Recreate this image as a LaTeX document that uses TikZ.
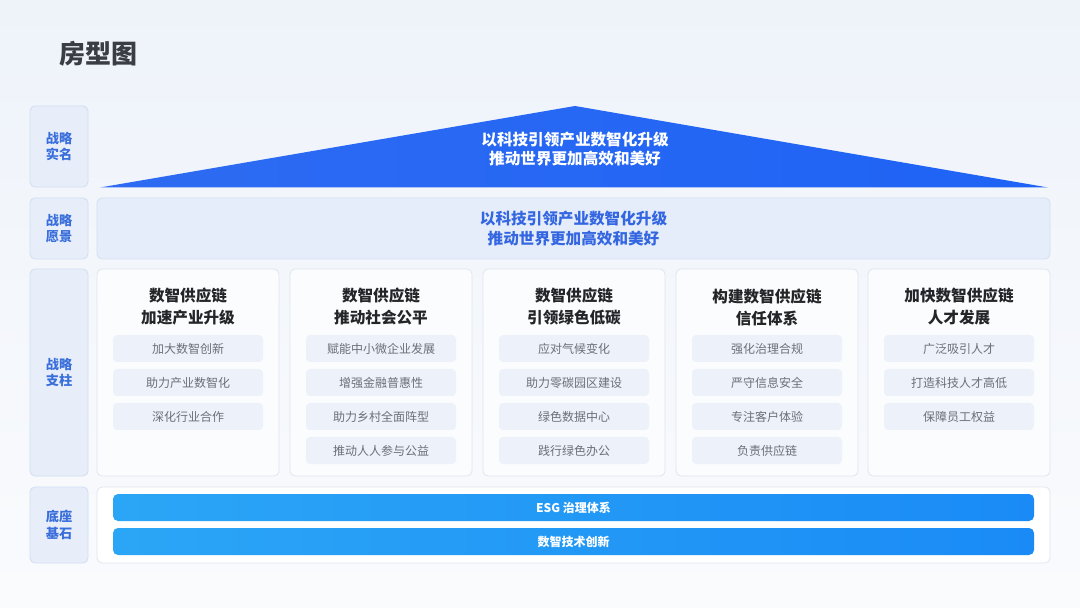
\documentclass[tikz,border=0pt]{standalone}
\usepackage{fontspec}
\setmainfont{Noto Sans CJK SC}
\usetikzlibrary{shapes.geometric}
\definecolor{bgtop}{HTML}{EEF3FA}
\definecolor{bgbot}{HTML}{FAFBFD}
\definecolor{lblfill}{HTML}{E7EEFA}
\definecolor{lbldraw}{HTML}{D2DDEF}
\definecolor{lbltext}{HTML}{3A6FDB}
\definecolor{visfill}{HTML}{E5EDFA}
\definecolor{visdraw}{HTML}{D4DFF1}
\definecolor{vistext}{HTML}{3366E0}
\definecolor{pilfill}{HTML}{FBFCFE}
\definecolor{pildraw}{HTML}{DFE5EE}
\definecolor{subfill}{HTML}{EDF1F9}
\definecolor{subtext}{HTML}{6B6F78}
\definecolor{headtext}{HTML}{232528}
\definecolor{titletext}{HTML}{3A3D44}
\definecolor{triL}{HTML}{2E6BF2}
\definecolor{triR}{HTML}{1E63F5}
\definecolor{barL}{HTML}{2BA6F6}
\definecolor{barR}{HTML}{1A8BF6}
\tikzset{
  px/.style={x=0.5pt,y=-0.5pt},
  lbl/.style={draw=lbldraw,fill=lblfill,rounded corners=2.5pt,line width=0.4pt,
    minimum width=29pt,align=center,inner sep=0pt,
    font=\fontsize{6.6pt}{8.4pt}\selectfont\bfseries,text=lbltext},
  pil/.style={draw=pildraw,fill=pilfill,rounded corners=2.5pt,line width=0.4pt,
    minimum width=91pt,minimum height=103.5pt,inner sep=0pt},
  head/.style={align=center,font=\fontsize{7.8pt}{11pt}\selectfont\bfseries,text=headtext},
  sub/.style={fill=subfill,rounded corners=2pt,minimum width=75pt,minimum height=13.5pt,
    inner sep=0pt,font=\fontsize{6pt}{7pt}\selectfont,text=subtext},
  bar/.style={rounded corners=2.5pt,left color=barL,right color=barR,draw=none,
    minimum width=460.5pt,minimum height=13.5pt,inner sep=0pt,
    font=\fontsize{6pt}{7pt}\selectfont\bfseries,text=white},
}
\begin{document}
\begin{tikzpicture}[px]
\useasboundingbox (0,0) rectangle (1080,608);
\shade[top color=bgtop,bottom color=bgbot] (0,0) rectangle (1080,608);
% title
\node[font=\fontsize{13pt}{15pt}\selectfont\bfseries,text=titletext,inner sep=0pt] (title) at (98,54) {房型图};
% left labels
\node[lbl,minimum height=40.5pt] (l1) at (59,146.5) {战略\\实名};
\node[lbl,minimum height=30.5pt] (l2) at (59,228.5) {战略\\愿景};
\node[lbl,minimum height=103.5pt] (l3) at (59,372.5) {战略\\支柱};
\node[lbl,minimum height=38pt] (l4) at (59,525) {底座\\基石};
% roof triangle
\shade[left color=triL,right color=triR] (100,187.5) -- (575,106) -- (1048,187.5) -- cycle;
\node[align=center,text=white,font=\fontsize{7.8pt}{9.2pt}\selectfont\bfseries] (roof) at (575,149) {以科技引领产业数智化升级\\推动世界更加高效和美好};
% vision
\node[draw=visdraw,fill=visfill,rounded corners=2.5pt,line width=0.4pt,minimum width=476.5pt,minimum height=30.5pt,inner sep=0pt] (vis) at (573.5,228.5) {};
\node[align=center,text=vistext,font=\fontsize{7.8pt}{9.6pt}\selectfont\bfseries] (vist) at (573.5,228.5) {以科技引领产业数智化升级\\推动世界更加高效和美好};
% pillars
\foreach \i/\cx/\ha/\hb in {1/188/数智供应链/加速产业升级,2/381/数智供应链/推动社会公平,3/574/数智供应链/引领绿色低碳,4/767/构建数智供应链/信任体系,5/959/加快数智供应链/人才发展}{
  \node[pil] (p\i) at (\cx,372.5) {};
  \node[head] (h\i) at (\cx,307) {\ha\\\hb};
}
% sub items
\foreach \i/\items in {1/{加大数智创新,助力产业数智化,深化行业合作},
  2/{赋能中小微企业发展,增强金融普惠性,助力乡村全面阵型,推动人人参与公益},
  3/{应对气候变化,助力零碳园区建设,绿色数据中心,践行绿色办公},
  4/{强化治理合规,严守信息安全,专注客户体验,负责供应链},
  5/{广泛吸引人才,打造科技人才高低,保障员工权益}}{
  \foreach \t [count=\k] in \items {
    \path (p\i.center) ++(0,{348.5+34*(\k-1)-372.5}) node[sub] (s\i-\k) {\t};
  }
}
% base
\node[draw=pildraw,fill=white,rounded corners=2.5pt,line width=0.4pt,minimum width=476.5pt,minimum height=38pt,inner sep=0pt] (base) at (573.5,525) {};
\node[bar] (b1) at (573.5,507.5) {ESG 治理体系};
\node[bar] (b2) at (573.5,541.5) {数智技术创新};
\end{tikzpicture}
\end{document}
